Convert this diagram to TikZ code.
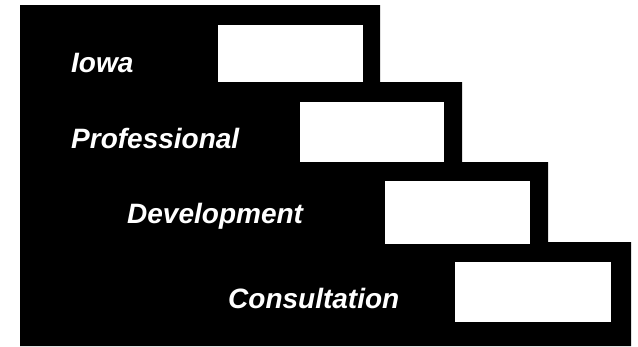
\documentclass[tikz,border=0pt]{standalone}
\usepackage{fontspec}
\setmainfont{Liberation Sans}
\usepackage{tikz}
\tikzset{%
    stepbox/.style={%
        fill=white,draw=none,inner sep=0pt,minimum width=#1},
    steplabel/.style={%
        text=white,anchor=base west,inner sep=0pt,
        font=\fontsize{28}{30}\selectfont\bfseries\itshape}
}

\begin{document}
\begin{tikzpicture}[x=1pt,y=-1pt]
\useasboundingbox (0,0) rectangle (638,346);
	\def\stairs{(20,5) -- (380,5) -- (380,82) -- (462,82) -- (462,162) -- (548,162) -- (548,242) -- (631,242) -- (631,346) -- (20,346) -- cycle};
\fill[black] \stairs;
\node[stepbox=145pt,minimum height=57pt] (box1) at (290.5,53.5) {};
\node[stepbox=144pt,minimum height=60pt] (box2) at (372,132)    {};
\node[stepbox=145pt,minimum height=63pt] (box3) at (457.5,212.5) {};
\node[stepbox=156pt,minimum height=60pt] (box4) at (533,292)    {};
\node[steplabel] (iowa)    at (71,72)   {Iowa};
\node[steplabel] (prof)    at (71,148)  {Professional};
\node[steplabel] (devel)   at (127,223) {Development};
\node[steplabel] (consult) at (228,308) {Consultation};
\end{tikzpicture}
\end{document}
